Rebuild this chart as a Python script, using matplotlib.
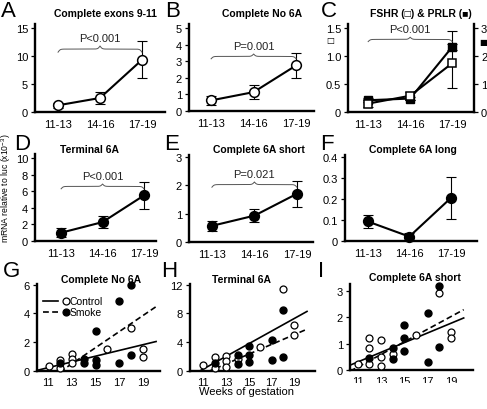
import numpy as np
import matplotlib
matplotlib.use('Agg')
import matplotlib.pyplot as plt
from matplotlib.transforms import Bbox, TransformedBbox

plt.rcParams['font.family'] = ['Liberation Sans', 'DejaVu Sans']
plt.rcParams['mathtext.fontset'] = 'custom'
plt.rcParams['mathtext.rm'] = 'Liberation Sans'

# ---- data ----
groups = ['11-13', '14-16', '17-19']

a_mean = [1.2, 2.5, 9.3]
a_err = [0.4, 1.1, 3.3]
b_mean = [0.64, 1.14, 2.75]
b_err = [0.27, 0.4, 0.78]
c_fshr = [0.15, 0.29, 0.87]
c_fshr_lo = [0.06, 0.07, 0.45]
c_fshr_hi = [0.06, 0.07, 0.58]
c_prlr = [0.42, 0.48, 2.32]
c_prlr_err = [0.08, 0.06, 0.1]
d_mean = [1.0, 2.28, 5.5]
d_err = [0.55, 0.75, 1.6]
e_mean = [0.57, 0.93, 1.7]
e_err = [0.17, 0.24, 0.45]
f_mean = [0.093, 0.021, 0.205]
f_err = [0.03, 0.018, 0.1]

g_ctrl_wk = [11.1, 12, 12, 13, 13, 13, 16, 18, 19, 19]
g_ctrl_val = [0.35, 0.75, 0.21, 1.21, 0.86, 0.56, 1.56, 3.0, 1.56, 0.98]
g_smk_wk = [12, 14, 14, 15, 15, 15, 17, 17, 18, 18]
g_smk_val = [0.56, 0.81, 0.56, 2.79, 0.74, 0.44, 4.88, 0.53, 5.98, 1.1]

h_ctrl_wk = [11, 12, 12, 13, 13, 13, 14, 16, 18, 19, 19]
h_ctrl_val = [0.78, 1.93, 0.46, 2.07, 1.33, 0.55, 1.6, 3.4, 11.4, 6.4, 5.0]
h_smk_wk = [12, 14, 14, 15, 15, 15, 17, 17, 18, 18]
h_smk_val = [1.15, 2.25, 1.0, 3.5, 2.25, 1.24, 4.3, 1.55, 8.5, 1.93]

i_ctrl_wk = [11, 12, 12, 12, 13, 13, 13, 14, 16, 18, 19, 19]
i_ctrl_val = [0.21, 1.2, 0.83, 0.21, 1.15, 0.49, 0.15, 0.62, 1.34, 2.94, 1.44, 1.22]
i_smk_wk = [12, 14, 14, 15, 15, 15, 17, 17, 18, 18]
i_smk_val = [0.45, 0.83, 0.41, 1.72, 1.22, 0.73, 2.16, 0.3, 3.19, 0.86]

# regression lines (slope, intercept)
g_fit = {'ctrl': (0.2, -1.97), 'smk': (0.56, -6.78)}
h_fit = {'ctrl': (0.88, -9.4), 'smk': (0.68, -7.85)}
i_fit = {'ctrl': (0.184, -1.72), 'smk': (0.24, -2.53)}
fit_end = 20.1

W, H = 487, 410
fig = plt.figure(figsize=(W / 100, H / 100), dpi=100)

SPW = 1.7   # spine width
FS = 8


def panel(l, r, t, b):
    ax = fig.add_axes([l / W, 1 - b / H, (r - l) / W, (b - t) / H])
    for s in ['top', 'right']:
        ax.spines[s].set_visible(False)
    for s in ['left', 'bottom']:
        ax.spines[s].set_linewidth(SPW)
    ax.tick_params(axis='y', length=3, width=0.9, pad=2, labelsize=FS)
    ax.tick_params(axis='x', length=0, pad=5, labelsize=FS)
    ax.patch.set_alpha(0)
    return ax


def brace(ax, x0, x1, y, h, text):
    tr = ax.get_xaxis_transform()
    u = np.linspace(0, 0.5, 200)
    beta = 80.0
    half = 1 / (1 + np.exp(-beta * (u - u[0]))) + 1 / (1 + np.exp(-beta * (u - u[-1])))
    uu = np.concatenate([u, 1 - u[-2::-1]])
    yy = np.concatenate([half, half[-2::-1]])
    ax.plot(x0 + uu * (x1 - x0), y + (yy - 0.5) * h, color='#555555', lw=0.7,
            transform=tr, clip_on=False)
    ax.text((x0 + x1) / 2, y + h + 0.09, text, transform=tr, ha='center', va='center',
            fontsize=8, color='#222222')


def group_plot(ax, mean, err, filled, marker='o', lo=None, ms=7):
    x = np.arange(len(groups))
    yerr = err if lo is None else [lo, err]
    ax.errorbar(x, mean, yerr=yerr, fmt='none', ecolor='k', elinewidth=0.8,
                capsize=3.5, capthick=0.8, clip_on=False)
    ax.plot(x, mean, '-', marker=marker, color='k', lw=1.5, ms=ms,
            mfc='k' if filled else 'white', mec='k', mew=1.1, clip_on=False, zorder=3)
    ax.set_xticks(x)
    ax.set_xticklabels(groups)


def title(x, y, s):
    fig.text(x / W, 1 - y / H, s, ha='center', va='center', fontsize=7.5, fontweight='bold')


def letter(x, y, s):
    fig.text(x / W, 1 - y / H, s, ha='left', va='top', fontsize=16)


# ---- A ----
ax = panel(35, 165, 25, 113)
group_plot(ax, a_mean, a_err, False)
ax.set_xlim(-0.55, 2.55)
ax.set_ylim(0, 15.7)
ax.set_yticks([0, 5, 10, 15])
brace(ax, 0, 2, 0.68, 0.07, 'P<0.001')

# ---- B ----
ax = panel(189, 314, 25, 112)
group_plot(ax, b_mean, b_err, False)
ax.set_xlim(-0.52, 2.42)
ax.set_ylim(0, 5.25)
ax.set_yticks([0, 1, 2, 3, 4, 5])
brace(ax, 0, 2, 0.6, 0.055, 'P=0.001')

# ---- C ----
ax = panel(348, 474, 25, 113)
ax2 = ax.twinx()
ax2.set_position(ax.get_position())
for s in ['top', 'left', 'bottom']:
    ax2.spines[s].set_visible(False)
ax2.spines['right'].set_linewidth(SPW)
ax2.tick_params(axis='y', length=3, width=0.9, pad=2, labelsize=FS)
x = np.arange(len(groups))
ax2.errorbar(x, c_prlr, yerr=c_prlr_err, fmt='none', ecolor='k', elinewidth=0.8,
             capsize=3.5, capthick=0.8)
ax2.plot(x, c_prlr, '-s', color='k', lw=1.5, ms=5.5, mfc='k', mec='k', zorder=3)
ax2.set_ylim(0, 3.14)
ax2.set_yticks([0, 1, 2, 3])
ax.set_zorder(ax2.get_zorder() + 1)
group_plot(ax, c_fshr, c_fshr_hi, False, marker='s', lo=c_fshr_lo, ms=6)
ax.set_xlim(-0.48, 2.52)
ax2.set_xlim(-0.48, 2.52)
ax.set_ylim(0, 1.57)
ax.set_yticks([0, 0.5, 1.0, 1.5])
ax.set_yticklabels(['0', '0.5', '1.0', '1.5'])
brace(ax, 0, 2, 0.8, 0.05, 'P<0.001')
fig.text(330 / W, 1 - 41 / H, '□', family='DejaVu Sans', fontsize=6, ha='center', va='center')
fig.text(483 / W, 1 - 42 / H, '■', family='DejaVu Sans', fontsize=6, ha='center', va='center')

# ---- D ----
ax = panel(35, 156, 155, 242)
group_plot(ax, d_mean, d_err, True)
ax.set_xlim(-0.63, 2.29)
ax.set_ylim(0, 10.5)
ax.set_yticks([0, 2, 4, 6, 8, 10])
brace(ax, 0, 2, 0.6, 0.055, 'P<0.001')

# ---- E ----
ax = panel(189, 313, 156, 243)
group_plot(ax, e_mean, e_err, True)
ax.set_xlim(-0.54, 2.38)
ax.set_ylim(0, 3.07)
ax.set_yticks([0, 1, 2, 3])
brace(ax, 0, 2, 0.63, 0.06, 'P=0.021')

# ---- F ----
ax = panel(345, 477, 156, 242)
group_plot(ax, f_mean, f_err, True)
ax.set_xlim(-0.55, 2.63)
ax.set_ylim(0, 0.41)
ax.set_yticks([0, 0.1, 0.2, 0.3, 0.4])
ax.set_yticklabels(['0', '0.1', '0.2', '0.3', '0.4'])


# ---- scatter panels ----
def scatter_panel(box, cw, cv, sw, sv, fit, xlim, ylim, yticks):
    ax = panel(*box)
    ax.tick_params(axis='x', pad=4)
    xs = np.array([xlim[0], fit_end])
    ax.plot(xs, fit['ctrl'][0] * xs + fit['ctrl'][1], '-', color='k', lw=1.2)
    ax.plot(xs, fit['smk'][0] * xs + fit['smk'][1], '--', color='k', lw=1.2,
            dashes=(3.5, 2))
    ax.plot(cw, cv, 'o', ms=5, mfc='white', mec='k', mew=0.9, clip_on=False, zorder=3)
    ax.plot(sw, sv, 'o', ms=5, mfc='k', mec='k', clip_on=False, zorder=3)
    ax.set_xlim(*xlim)
    ax.set_ylim(*ylim)
    ax.set_xticks([11, 13, 15, 17, 19])
    ax.set_yticks(yticks)
    return ax


ax = scatter_panel((37, 160, 285, 372), g_ctrl_wk, g_ctrl_val, g_smk_wk, g_smk_val,
                   g_fit, (10.07, 20.43), (0, 6.05), [0, 2, 4, 6])
# legend
for yy, ls, fc, lab in [(0.805, '-', 'white', 'Control'), (0.678, '--', 'k', 'Smoke')]:
    ax.plot([0.049, 0.171], [yy, yy], ls, color='k', lw=1.2, transform=ax.transAxes,
            dashes=(3.5, 2) if ls == '--' else (None, None))
    ax.plot([0.236], [yy], 'o', ms=5, mfc=fc, mec='k', mew=0.9, transform=ax.transAxes)
    ax.text(0.268, yy, lab, transform=ax.transAxes, va='center', ha='left', fontsize=7.5)

scatter_panel((190, 315, 285, 372), h_ctrl_wk, h_ctrl_val, h_smk_wk, h_smk_val,
              h_fit, (9.83, 20.8), (0, 12.1), [0, 4, 8, 12])
ax = scatter_panel((350, 473, 285, 371), i_ctrl_wk, i_ctrl_val, i_smk_wk, i_smk_val,
                   i_fit, (10.34, 20.9), (0, 3.27), [0, 1, 2, 3])
# tick labels of panel I are cut off at their lower half in the original
clip = TransformedBbox(Bbox([[340 / W, 1 - 384 / H], [1, 1 - 372 / H]]), fig.transFigure)
for lbl in ax.get_xticklabels():
    lbl.set_clip_on(True)
    lbl.set_clip_box(clip)

# ---- titles, letters, labels ----
title(105, 14, 'Complete exons 9-11')
title(262, 14, 'Complete No 6A')
title(421, 14, 'FSHR (□) & PRLR (■)')
title(89, 150, 'Terminal 6A')
title(259, 150, 'Complete 6A short')
title(413, 150, 'Complete 6A long')
title(101, 280, 'Complete No 6A')
title(242, 280, 'Terminal 6A')
title(415, 278, 'Complete 6A short')

letter(1, 1, 'A')
letter(165, 1, 'B')
letter(321, 1, 'C')
letter(14, 134, 'D')
letter(164, 134, 'E')
letter(320, 134, 'F')
letter(3, 261, 'G')
letter(161, 261, 'H')
letter(318, 261, 'I')

fig.text(6 / W, 1 - 188 / H, 'mRNA relative to luc (x10$^{-3}$)', rotation=90,
         ha='center', va='center', fontsize=6.2)
fig.text(246 / W, 1 - 392 / H, 'Weeks of gestation', ha='center', va='center', fontsize=8)

fig.savefig('out.png', dpi=100)
